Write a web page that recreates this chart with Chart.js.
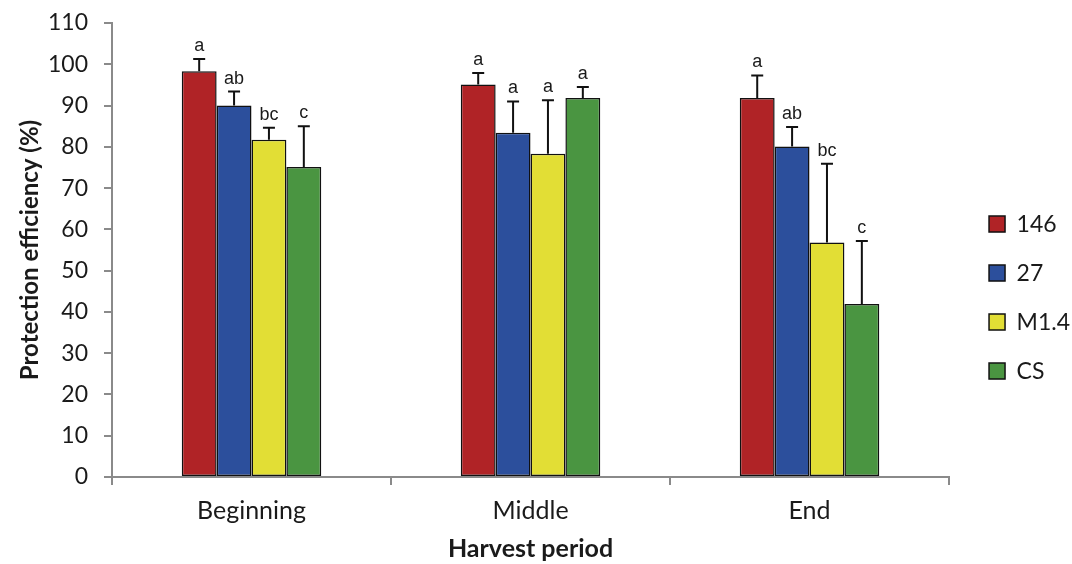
<!DOCTYPE html>
<html><head><meta charset="utf-8">
<script src="https://cdn.jsdelivr.net/npm/chart.js@4/dist/chart.umd.min.js"></script>
<style>html,body{margin:0;padding:0;background:#fff;}#wrap{width:1072px;height:564px;position:relative;}</style>
</head><body><div id="wrap"><canvas id="c"></canvas></div>
<script>
const categories = ['Beginning', 'Middle', 'End'];
const seriesNames = ['146', '27', 'M1.4', 'CS'];
const values146 = [98.3, 95.1, 91.8];
const values27 = [90.0, 83.4, 80.1];
const valuesM14 = [81.7, 78.3, 56.8];
const valuesCS = [75.1, 91.8, 41.9];
const err146 = [3.0, 2.8, 5.5];
const err27 = [3.4, 7.6, 4.7];
const errM14 = [2.9, 13.0, 19.1];
const errCS = [9.9, 2.7, 15.3];
const letters146 = ['a', 'a', 'a'];
const letters27 = ['ab', 'a', 'ab'];
const lettersM14 = ['bc', 'a', 'bc'];
const lettersCS = ['c', 'a', 'c'];
const yMin = 0, yMax = 110, yStep = 10;
const xTitle = 'Harvest period';
const yTitle = 'Protection efficiency (%)';
const colors = ['#B02326', '#2C4F9C', '#E2DE35', '#4A9541'];

const seriesValues = [values146, values27, valuesM14, valuesCS];
const seriesErrors = [err146, err27, errM14, errCS];
const seriesLetters = [letters146, letters27, lettersM14, lettersCS];

const FONT = 'Lato';
const TXT = '#1a1a1a';
const AXIS = '#8a8a8a';

const errorBarPlugin = {
  id: 'errbars',
  afterDatasetsDraw(chart) {
    const ctx = chart.ctx, y = chart.scales.y;
    chart.data.datasets.forEach((ds, i) => {
      const meta = chart.getDatasetMeta(i);
      meta.data.forEach((bar, j) => {
        const v = ds.data[j], e = ds.errors[j];
        const yTop = y.getPixelForValue(v + e);
        ctx.save();
        ctx.strokeStyle = '#111';
        ctx.lineWidth = 2;
        ctx.beginPath();
        ctx.moveTo(bar.x, bar.y);
        ctx.lineTo(bar.x, yTop);
        ctx.moveTo(bar.x - 6, yTop);
        ctx.lineTo(bar.x + 6, yTop);
        ctx.stroke();
        ctx.font = '18px "Liberation Sans"';
        ctx.fillStyle = TXT;
        ctx.textAlign = 'center';
        ctx.textBaseline = 'alphabetic';
        ctx.fillText(ds.letters[j], bar.x, yTop - 8);
        ctx.restore();
      });
    });
  }
};

new Chart(document.getElementById('c'), {
  type: 'bar',
  data: {
    labels: categories,
    datasets: seriesNames.map((name, i) => ({
      label: name,
      data: seriesValues[i],
      errors: seriesErrors[i],
      letters: seriesLetters[i],
      backgroundColor: colors[i],
      borderColor: '#111',
      borderWidth: 1.5,
      borderSkipped: false,
      categoryPercentage: 0.5,
      barPercentage: 1.0
    }))
  },
  options: {
    responsive: true,
    maintainAspectRatio: false,
    animation: false,
    devicePixelRatio: 1,
    layout: { padding: { top: 23, right: -8, bottom: 0, left: 0 } },
    plugins: {
      tooltip: { enabled: false },
      legend: {
        position: 'right',
        align: 'center',
        title: { display: true, text: ' ', font: { size: 6 }, padding: { top: 1, bottom: 0 } },
        labels: {
          boxWidth: 16, boxHeight: 16, padding: 26,
          font: { family: FONT, size: 23 }, color: TXT
        }
      }
    },
    scales: {
      x: {
        afterFit(s) { s.height = 87; },
        grid: { display: true, offset: true, drawOnChartArea: false, drawTicks: true, tickLength: 8, color: AXIS, lineWidth: 2 },
        border: { display: true, color: AXIS, width: 2 },
        ticks: { font: { family: FONT, size: 25 }, color: TXT, padding: 11 },
        title: { display: true, text: xTitle, font: { family: FONT, size: 25, weight: 'bold' }, color: TXT, padding: { top: 0, bottom: 0 } }
      },
      y: {
        min: yMin, max: yMax,
        afterFit(s) { s.width = 112; s.paddingTop = 10; s.paddingBottom = 10; },
        grid: { display: true, drawOnChartArea: false, drawTicks: true, tickLength: 8, color: AXIS, lineWidth: 2 },
        border: { display: true, color: AXIS, width: 2 },
        ticks: { stepSize: yStep, font: { family: FONT, size: 23 }, color: TXT, padding: 16 },
        title: { display: true, text: yTitle, font: { family: FONT, size: 24, weight: 'bold' }, color: TXT, padding: { top: 16, bottom: 0 } }
      },
      yPad: {
        position: 'right', display: true,
        afterFit(s) { s.width = 14; },
        grid: { display: false }, border: { display: false }, ticks: { display: false }
      }
    }
  },
  plugins: [errorBarPlugin]
});
</script>
</body></html>
